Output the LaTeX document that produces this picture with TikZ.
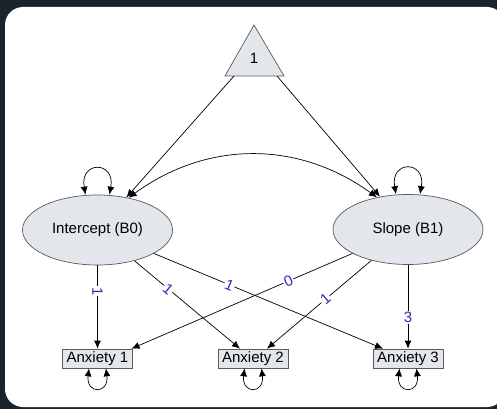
\documentclass[tikz,border=0pt]{standalone}
\usepackage{fontspec}
\setmainfont{Liberation Sans}
\usetikzlibrary{arrows.meta,shapes.geometric}
\definecolor{panelbg}{HTML}{1B242A}
\definecolor{nodefill}{HTML}{E3E7EC}
\definecolor{nodeline}{HTML}{5A5A5A}
\definecolor{coef}{RGB}{45,45,180}
\begin{document}
\begin{tikzpicture}[x=1pt,y=-1pt,
  font=\fontsize{15}{18}\selectfont,
  latent/.style={ellipse, draw=nodeline, fill=nodefill, line width=0.7pt,
                 minimum width=150pt, minimum height=70pt, inner sep=0pt},
  manifest/.style={rectangle, draw=nodeline, fill=nodefill, line width=0.7pt,
                   minimum width=70pt, minimum height=19pt, inner sep=0pt},
  reg/.style={line width=0.7pt, black, -{Latex[length=8pt,width=7pt]}},
  cov/.style={line width=0.7pt, black, {Latex[length=8pt,width=7pt]}-{Latex[length=8pt,width=7pt]}},
  lbl/.style={fill=white, text=coef, inner sep=1pt, font=\fontsize{15}{18}\selectfont}]
  \useasboundingbox (0,0) rectangle (497,409);
  % panel
  \fill[panelbg] (0,0) rectangle (497,409);
  \fill[white, rounded corners=18pt] (5,7) rectangle (505,407);

  % constant (triangle)
  \draw[nodeline, fill=nodefill, line width=0.7pt] (254,25) -- (284,76) -- (225,76) -- cycle;
  \node (one) at (254,58) {1};
  \coordinate (oneL) at (234,76);
  \coordinate (oneR) at (277,76);

  % latent growth factors
  \node[latent] (int) at (97.5,230) {Intercept (B0)};
  \node[latent] (slp) at (408,229.5) {Slope (B1)};

  % observed indicators
  \node[manifest] (a1) at (97.5,358.5) {Anxiety 1};
  \node[manifest] (a2) at (253,358.5) {Anxiety 2};
  \node[manifest] (a3) at (408,358.5) {Anxiety 3};

  % means
  \draw[reg] (oneL) -- (int);
  \draw[reg] (oneR) -- (slp);

  % factor covariance
  \draw[cov] (int.46) to[bend left=36] (slp.134);

  % variances
  \draw[cov] ([xshift=-12pt]int.north) .. controls +(-6,-34) and +(6,-34) .. ([xshift=12pt]int.north);
  \draw[cov] ([xshift=-12pt]slp.north) .. controls +(-6,-34) and +(6,-34) .. ([xshift=12pt]slp.north);
  \foreach \b in {a1,a2,a3}
    \draw[cov] ([xshift=-8.5pt]\b.south) .. controls +(-3,26) and +(3,26) .. ([xshift=8.5pt]\b.south);

  % loadings
  \draw[reg] (int) -- node[lbl, pos=0.31, sloped] {1} (a1);
  \draw[reg] (int) -- node[lbl, pos=0.32, sloped] {1} ([xshift=-13pt]a2.north);
  \draw[reg] (int) -- node[lbl, pos=0.33, sloped] {1} ([xshift=-25pt]a3.north);
  \draw[reg] (slp) -- node[lbl, pos=0.29, sloped] {0} ([xshift=34pt]a1.north);
  \draw[reg] (slp) -- node[lbl, pos=0.44, sloped] {1} ([xshift=14pt]a2.north);
  \draw[reg] (slp) -- node[lbl, pos=0.63] {3} (a3);
\end{tikzpicture}
\end{document}
